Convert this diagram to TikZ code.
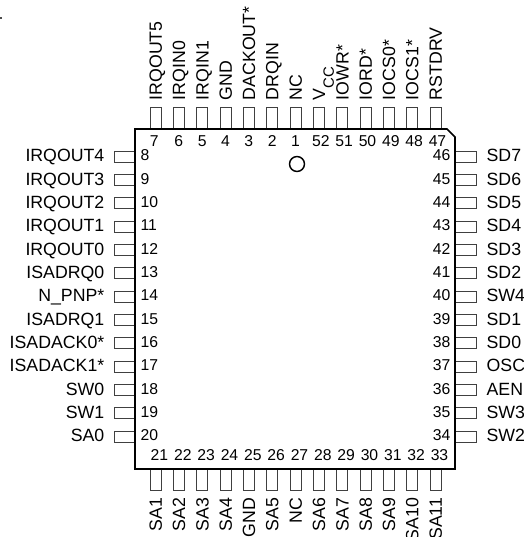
\documentclass[tikz,border=0pt]{standalone}
\usepackage{fontspec}
\setmainfont{Liberation Sans}
\usetikzlibrary{shapes,positioning}

\begin{document}
\begin{tikzpicture}[x=0.75pt,y=-0.75pt,node distance=17.5pt]
% Define styles
\tikzstyle{chip} = [draw=black, line width=1.3pt, line join=miter]
\tikzstyle{vpin} = [rectangle, minimum width=8.25pt, minimum height=15.75pt, inner sep=0pt, draw=black!75, line width=0.6pt]
\tikzstyle{hpin} = [rectangle, minimum width=15.75pt, minimum height=8.25pt, inner sep=0pt, draw=black!75, line width=0.6pt]
\tikzstyle{sig} = [font=\fontsize{13.3}{14}\selectfont, text height=9.5pt, text depth=0pt, inner sep=0pt]
\tikzstyle{num} = [font=\fontsize{11.8}{14}\selectfont, text height=8.4pt, text depth=0pt, inner sep=0pt]
\tikzstyle{toplabel} = [sig, rotate=90, anchor=west, xshift=5pt]
\tikzstyle{botlabel} = [sig, rotate=90, anchor=east, xshift=-5.25pt]
\tikzstyle{leftlabel} = [sig, anchor=east, xshift=-6.75pt, yshift=0.75pt]
\tikzstyle{rightlabel} = [sig, anchor=west, xshift=7.5pt, yshift=0.75pt]
\tikzstyle{leftnum} = [num, anchor=west, xshift=3.75pt, yshift=1pt]
\tikzstyle{rightnum} = [num, anchor=east, xshift=-3pt, yshift=1pt]
\tikzstyle{botnum} = [num, above of=#1, xshift=3pt, yshift=0.75pt]

\useasboundingbox (0,0) rectangle (524,537);

% Draw top pins
\node (p7) [vpin] at (155.5,118) {};
\node (p6) [vpin, right of=p7] {};
\node (p5) [vpin, right of=p6] {};
\node (p4) [vpin, right of=p5] {};
\node (p3) [vpin, right of=p4] {};
\node (p2) [vpin, right of=p3] {};
\node (p1) [vpin, right of=p2] {};
\node (p52) [vpin, right of=p1] {};
\node (p51) [vpin, right of=p52] {};
\node (p50) [vpin, right of=p51] {};
\node (p49) [vpin, right of=p50] {};
\node (p48) [vpin, right of=p49] {};
\node (p47) [vpin, right of=p48] {};

% Draw left pins
\node (p8) [hpin] at (124.5,156.5) {};
\node (p9) [hpin, below of=p8] {};
\node (p10) [hpin, below of=p9] {};
\node (p11) [hpin, below of=p10] {};
\node (p12) [hpin, below of=p11] {};
\node (p13) [hpin, below of=p12] {};
\node (p14) [hpin, below of=p13] {};
\node (p15) [hpin, below of=p14] {};
\node (p16) [hpin, below of=p15] {};
\node (p17) [hpin, below of=p16] {};
\node (p18) [hpin, below of=p17] {};
\node (p19) [hpin, below of=p18] {};
\node (p20) [hpin, below of=p19] {};

% Draw right pins
\node (p46) [hpin] at (465.5,156.5) {};
\node (p45) [hpin, below of=p46] {};
\node (p44) [hpin, below of=p45] {};
\node (p43) [hpin, below of=p44] {};
\node (p42) [hpin, below of=p43] {};
\node (p41) [hpin, below of=p42] {};
\node (p40) [hpin, below of=p41] {};
\node (p39) [hpin, below of=p40] {};
\node (p38) [hpin, below of=p39] {};
\node (p37) [hpin, below of=p38] {};
\node (p36) [hpin, below of=p37] {};
\node (p35) [hpin, below of=p36] {};
\node (p34) [hpin, below of=p35] {};

% Draw bottom pins
\node (p21) [vpin] at (155.5,479.5) {};
\node (p22) [vpin, right of=p21] {};
\node (p23) [vpin, right of=p22] {};
\node (p24) [vpin, right of=p23] {};
\node (p25) [vpin, right of=p24] {};
\node (p26) [vpin, right of=p25] {};
\node (p27) [vpin, right of=p26] {};
\node (p28) [vpin, right of=p27] {};
\node (p29) [vpin, right of=p28] {};
\node (p30) [vpin, right of=p29] {};
\node (p31) [vpin, right of=p30] {};
\node (p32) [vpin, right of=p31] {};
\node (p33) [vpin, right of=p32] {};

% Draw package
\draw [chip] (135,129) -- (447,129) -- (455,137) -- (455,469) -- (135,469) -- cycle;
\node (dot) [circle, minimum size=11.2pt, inner sep=0pt, draw=black, line width=1.1pt] at (297,164) {};
\node (speck) [rectangle, minimum size=1.5pt, inner sep=0pt, fill=black!70] at (0.8,17.5) {};

% Draw top labels
\node (l7) [toplabel] at (p7.north) {IRQOUT5};
\node (l6) [toplabel] at (p6.north) {IRQIN0};
\node (l5) [toplabel] at (p5.north) {IRQIN1};
\node (l4) [toplabel] at (p4.north) {GND};
\node (l3) [toplabel] at (p3.north) {DACKOUT*};
\node (l2) [toplabel] at (p2.north) {DRQIN};
\node (l1) [toplabel] at (p1.north) {NC};
\node (l52) [toplabel] at (p52.north) {V\raisebox{-6.5pt}{\fontsize{11.2}{12}\selectfont CC}};
\node (l51) [toplabel] at (p51.north) {IOWR*};
\node (l50) [toplabel] at (p50.north) {IORD*};
\node (l49) [toplabel] at (p49.north) {IOCS0*};
\node (l48) [toplabel] at (p48.north) {IOCS1*};
\node (l47) [toplabel] at (p47.north) {RSTDRV};

% Draw left labels
\node (l8) [leftlabel] at (p8.west) {IRQOUT4};
\node (l9) [leftlabel] at (p9.west) {IRQOUT3};
\node (l10) [leftlabel] at (p10.west) {IRQOUT2};
\node (l11) [leftlabel] at (p11.west) {IRQOUT1};
\node (l12) [leftlabel] at (p12.west) {IRQOUT0};
\node (l13) [leftlabel] at (p13.west) {ISADRQ0};
\node (l14) [leftlabel] at (p14.west) {N\_PNP*};
\node (l15) [leftlabel] at (p15.west) {ISADRQ1};
\node (l16) [leftlabel] at (p16.west) {ISADACK0*};
\node (l17) [leftlabel] at (p17.west) {ISADACK1*};
\node (l18) [leftlabel] at (p18.west) {SW0};
\node (l19) [leftlabel] at (p19.west) {SW1};
\node (l20) [leftlabel] at (p20.west) {SA0};

% Draw right labels
\node (l46) [rightlabel] at (p46.east) {SD7};
\node (l45) [rightlabel] at (p45.east) {SD6};
\node (l44) [rightlabel] at (p44.east) {SD5};
\node (l43) [rightlabel] at (p43.east) {SD4};
\node (l42) [rightlabel] at (p42.east) {SD3};
\node (l41) [rightlabel] at (p41.east) {SD2};
\node (l40) [rightlabel] at (p40.east) {SW4};
\node (l39) [rightlabel] at (p39.east) {SD1};
\node (l38) [rightlabel] at (p38.east) {SD0};
\node (l37) [rightlabel] at (p37.east) {OSC};
\node (l36) [rightlabel] at (p36.east) {AEN};
\node (l35) [rightlabel] at (p35.east) {SW3};
\node (l34) [rightlabel] at (p34.east) {SW2};

% Draw bottom labels
\node (l21) [botlabel] at (p21.south) {SA1};
\node (l22) [botlabel] at (p22.south) {SA2};
\node (l23) [botlabel] at (p23.south) {SA3};
\node (l24) [botlabel] at (p24.south) {SA4};
\node (l25) [botlabel] at (p25.south) {GND};
\node (l26) [botlabel] at (p26.south) {SA5};
\node (l27) [botlabel] at (p27.south) {NC};
\node (l28) [botlabel] at (p28.south) {SA6};
\node (l29) [botlabel] at (p29.south) {SA7};
\node (l30) [botlabel] at (p30.south) {SA8};
\node (l31) [botlabel] at (p31.south) {SA9};
\node (l32) [botlabel] at (p32.south) {SA10};
\node (l33) [botlabel] at (p33.south) {SA11};

% Draw pin numbers
\node (n7) [num, below of=p7, xshift=-1pt] {7};
\node (n6) [num, below of=p6] {6};
\node (n5) [num, below of=p5] {5};
\node (n4) [num, below of=p4] {4};
\node (n3) [num, below of=p3] {3};
\node (n2) [num, below of=p2] {2};
\node (n1) [num, below of=p1] {1};
\node (n52) [num, below of=p52, xshift=1.5pt] {52};
\node (n51) [num, below of=p51, xshift=1.5pt] {51};
\node (n50) [num, below of=p50, xshift=1.5pt] {50};
\node (n49) [num, below of=p49, xshift=1.5pt] {49};
\node (n48) [num, below of=p48, xshift=1.5pt] {48};
\node (n47) [num, below of=p47, xshift=1.5pt] {47};
\node (n8) [leftnum] at (p8.east) {8};
\node (n9) [leftnum] at (p9.east) {9};
\node (n10) [leftnum] at (p10.east) {10};
\node (n11) [leftnum] at (p11.east) {11};
\node (n12) [leftnum] at (p12.east) {12};
\node (n13) [leftnum] at (p13.east) {13};
\node (n14) [leftnum] at (p14.east) {14};
\node (n15) [leftnum] at (p15.east) {15};
\node (n16) [leftnum] at (p16.east) {16};
\node (n17) [leftnum] at (p17.east) {17};
\node (n18) [leftnum] at (p18.east) {18};
\node (n19) [leftnum] at (p19.east) {19};
\node (n20) [leftnum] at (p20.east) {20};
\node (n46) [rightnum] at (p46.west) {46};
\node (n45) [rightnum] at (p45.west) {45};
\node (n44) [rightnum] at (p44.west) {44};
\node (n43) [rightnum] at (p43.west) {43};
\node (n42) [rightnum] at (p42.west) {42};
\node (n41) [rightnum] at (p41.west) {41};
\node (n40) [rightnum] at (p40.west) {40};
\node (n39) [rightnum] at (p39.west) {39};
\node (n38) [rightnum] at (p38.west) {38};
\node (n37) [rightnum] at (p37.west) {37};
\node (n36) [rightnum] at (p36.west) {36};
\node (n35) [rightnum] at (p35.west) {35};
\node (n34) [rightnum] at (p34.west) {34};
\node (n21) [botnum=p21] {21};
\node (n22) [botnum=p22] {22};
\node (n23) [botnum=p23] {23};
\node (n24) [botnum=p24] {24};
\node (n25) [botnum=p25] {25};
\node (n26) [botnum=p26] {26};
\node (n27) [botnum=p27] {27};
\node (n28) [botnum=p28] {28};
\node (n29) [botnum=p29] {29};
\node (n30) [botnum=p30] {30};
\node (n31) [botnum=p31] {31};
\node (n32) [botnum=p32] {32};
\node (n33) [botnum=p33] {33};
\end{tikzpicture}
\end{document}
